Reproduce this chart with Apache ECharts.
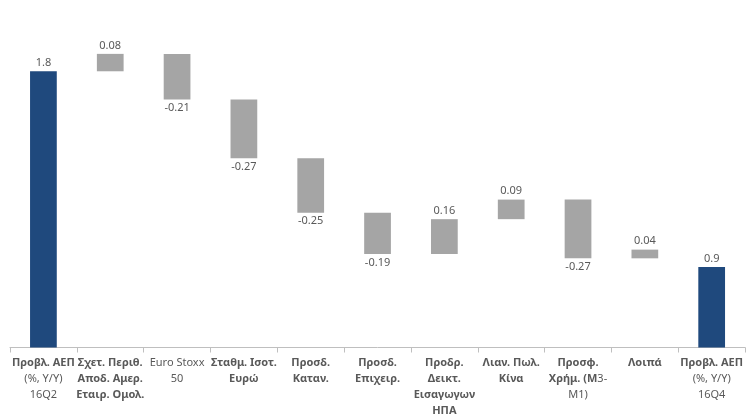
<!DOCTYPE html>
<html>
<head>
<meta charset="utf-8">
<script src="https://cdn.jsdelivr.net/npm/echarts@6/dist/echarts.min.js"></script>
<style>
  html, body { margin: 0; padding: 0; background: #ffffff; }
  #chart { width: 746px; height: 416px; }
</style>
</head>
<body>
<div id="chart"></div>
<script>
// Contributions to the GDP forecast change, 16Q2 -> 16Q4
const categories = [
  'Προβλ. ΑΕΠ\n(%, Y/Y)\n16Q2',
  'Σχετ. Περιθ.\nΑποδ. Αμερ.\nΕταιρ. Ομολ.',
  'Euro Stoxx\n50',
  'Σταθμ. Ισοτ.\nΕυρώ',
  'Προσδ.\nΚαταν.',
  'Προσδ.\nΕπιχειρ.',
  'Προδρ.\nΔεικτ.\nΕισαγωγων\nΗΠΑ',
  'Λιαν. Πωλ.\nΚίνα',
  'Προσφ.\nΧρήμ. (M3-\nM1)',
  'Λοιπά',
  'Προβλ. ΑΕΠ\n(%, Y/Y)\n16Q4'
];
const startValue = 1.8;
const changes = [0.08, -0.21, -0.27, -0.25, -0.19, 0.16, 0.09, -0.27, 0.04];
const endValue = 0.9;

// pieces of the axis labels set in regular weight (the rest is bold)
const regularText = ['(%, Y/Y)', '16Q2', '16Q4', 'Euro Stoxx', '50', '3-', 'M1)'];

const TOTAL_COLOR = '#1F497D';
const STEP_COLOR = '#A5A5A5';
const TEXT_COLOR = '#595959';

// waterfall: an invisible base series lifts each step bar to its running level
const baseData = [];
const stepData = [];
let level = startValue;
baseData.push(0);
stepData.push({ value: startValue, shown: startValue, total: true });
changes.forEach(function (c) {
  const low = c >= 0 ? level : level + c;
  baseData.push(+low.toFixed(4));
  stepData.push({ value: Math.abs(c), shown: c, total: false });
  level += c;
});
baseData.push(0);
stepData.push({ value: endValue, shown: endValue, total: true });

const styledSteps = stepData.map(function (d) {
  return {
    value: d.value,
    shown: d.shown,
    itemStyle: { color: d.total ? TOTAL_COLOR : STEP_COLOR },
    label: { position: d.shown < 0 ? 'bottom' : 'top' }
  };
});

function styleLine(line) {
  if (regularText.indexOf(line) >= 0) return '{r|' + line + '}';
  for (const piece of regularText) {
    if (line.length > piece.length && line.endsWith(piece)) {
      return '{b|' + line.slice(0, line.length - piece.length) + '}{r|' + piece + '}';
    }
  }
  return '{b|' + line + '}';
}

const chart = echarts.init(document.getElementById('chart'), null, { renderer: 'canvas' });
chart.setOption({
  animation: false,
  backgroundColor: '#ffffff',
  grid: { left: 10, width: 737, top: 43, bottom: 68, containLabel: false },
  xAxis: {
    type: 'category',
    data: categories,
    axisLine: { lineStyle: { color: '#BFBFBF', width: 1 } },
    axisTick: { show: true, length: 5, lineStyle: { color: '#BFBFBF' } },
    axisLabel: {
      interval: 0,
      margin: 7,
      formatter: function (value) {
        return value.split('\n').map(styleLine).join('\n');
      },
      rich: {
        b: { fontFamily: 'Noto Sans', fontSize: 11, fontWeight: 'bold', color: TEXT_COLOR, lineHeight: 16 },
        r: { fontFamily: 'Noto Sans', fontSize: 11, fontWeight: 'normal', color: TEXT_COLOR, lineHeight: 16 }
      }
    }
  },
  yAxis: { type: 'value', min: 0.53, max: 1.93, show: false },
  series: [
    {
      type: 'bar',
      stack: 'waterfall',
      data: baseData,
      barWidth: '40%',
      itemStyle: { color: 'rgba(0,0,0,0)' },
      silent: true,
      clip: true
    },
    {
      type: 'bar',
      stack: 'waterfall',
      data: styledSteps,
      barWidth: '40%',
      clip: true,
      label: {
        show: true,
        distance: 3,
        fontFamily: 'Noto Sans',
        fontSize: 11,
        color: TEXT_COLOR,
        formatter: function (p) { return String(p.data.shown); }
      }
    }
  ]
});
</script>
</body>
</html>
